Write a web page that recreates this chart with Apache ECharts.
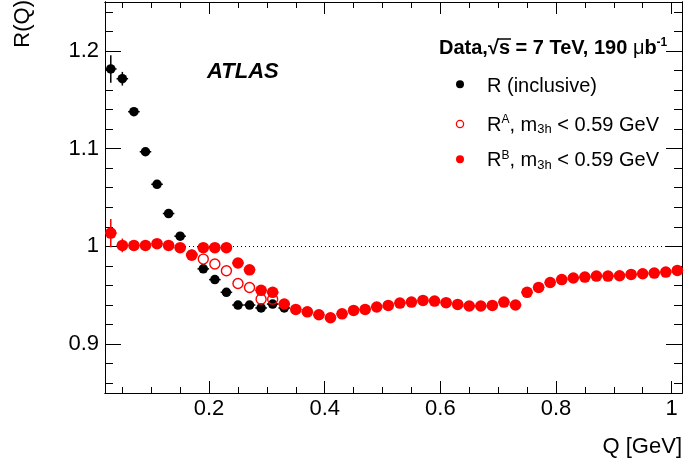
<!DOCTYPE html>
<html><head><meta charset="utf-8">
<script src="https://cdn.jsdelivr.net/npm/echarts@6/dist/echarts.min.js"></script>
<style>html,body{margin:0;padding:0;background:#fff}#c{width:685px;height:465px}</style>
</head><body><div id="c"></div>
<script>
// ---- data ----
const qIncl = [0.03,0.05,0.07,0.09,0.11,0.13,0.15,0.17,0.19,0.21,0.23,0.25,0.27,0.29,0.31,0.33];
const rIncl = [1.1815,1.1715,1.1378,1.0968,1.0635,1.0336,1.0104,0.992,0.977,0.966,0.953,0.940,0.940,0.937,0.941,0.937];
const errIncl = [0.014,0.007,0.003,0.003,0.003,0.002,0.002,0.002,0.002,0.002,0.002,0.002,0.002,0.002,0.002,0.002];

const qA = [0.19,0.21,0.23,0.25,0.27,0.29,0.31];
const rA = [0.987,0.982,0.975,0.962,0.958,0.946,0.946];

const qB = [0.03,0.05,0.07,0.09,0.11,0.13,0.15,0.17,0.19,0.21,0.23,0.25,0.27,0.29,0.31,0.33,0.35,0.37,0.39,0.41,
            0.43,0.45,0.47,0.49,0.51,0.53,0.55,0.57,0.59,0.61,0.63,0.65,0.67,0.69,0.71,0.73,0.75,0.77,0.79,0.81,
            0.83,0.85,0.87,0.89,0.91,0.93,0.95,0.97,0.99,1.01];
const rB = [1.0136,1.001,1.001,1.001,1.0028,1.001,0.9987,0.991,0.9987,0.9987,0.9987,0.983,0.976,0.955,0.953,0.941,0.9355,0.933,0.930,0.927,
            0.931,0.9345,0.9355,0.938,0.9396,0.942,0.943,0.9447,0.944,0.9424,0.9406,0.939,0.939,0.9396,0.943,0.940,0.953,0.958,0.963,0.966,
            0.9676,0.9686,0.9696,0.9696,0.970,0.9713,0.972,0.9727,0.9737,0.9754];
const errB = [0.0145,0.007,0.002,0.002,0.002,0.002,0.002,0.002,0.002,0.002,0.002,0.002,0.002,0.002,0.002,0.002,0.002,0.002,0.002,0.002,
              0.002,0.002,0.002,0.002,0.002,0.002,0.002,0.002,0.002,0.002,0.002,0.002,0.002,0.002,0.002,0.002,0.002,0.002,0.002,0.002,
              0.002,0.002,0.002,0.002,0.002,0.002,0.002,0.002,0.002,0.002];

const xMajorTicks = [0.2,0.4,0.6,0.8,1.0];
const xTickLabels = ['0.2','0.4','0.6','0.8','1'];
const xMinorTicks = [0.05,0.1,0.15,0.25,0.3,0.35,0.45,0.5,0.55,0.65,0.7,0.75,0.85,0.9,0.95];
const yMajorTicks = [0.9,1.0,1.1,1.2];
const yTickLabels = ['0.9','1','1.1','1.2'];
const yMinorTicks = [0.86,0.88,0.92,0.94,0.96,0.98,1.02,1.04,1.06,1.08,1.12,1.14,1.16,1.18,1.22,1.24];

const X_MIN = 0.02, X_MAX = 1.018, Y_MIN = 0.85, Y_MAX = 1.25;
const BIN_HALF = 0.01;
const FONT = "'Liberation Sans', Arial, Helvetica, sans-serif";
const RED = '#ff0000';

// ---- build ----
function tri(q, r, e) { return q.map((x, i) => [x, r[i], e ? e[i] : 0]); }
function pair(q, r) { return q.map((x, i) => [x, r[i]]); }

function xAx(pos, ticks, len, labels) {
  return {
    type: 'value', position: pos, min: X_MIN, max: X_MAX,
    axisLine: { show: true, onZero: false, lineStyle: { color: '#000', width: 1 } },
    axisTick: { show: true, inside: true, length: len, customValues: ticks, lineStyle: { color: '#000', width: 1 } },
    axisLabel: labels ? {
      show: true, customValues: ticks, margin: 5, color: '#000', fontSize: 22, fontFamily: FONT,
      formatter: v => { const i = xMajorTicks.findIndex(t => Math.abs(t - v) < 1e-6); return i >= 0 ? xTickLabels[i] : ''; }
    } : { show: false },
    splitLine: { show: false }
  };
}
function yAx(pos, ticks, len, labels) {
  return {
    type: 'value', position: pos, min: Y_MIN, max: Y_MAX,
    axisLine: { show: true, onZero: false, lineStyle: { color: '#000', width: 1 } },
    axisTick: { show: true, inside: true, length: len, customValues: ticks, lineStyle: { color: '#000', width: 1 } },
    axisLabel: labels ? {
      show: true, customValues: ticks, margin: 6, color: '#000', fontSize: 22, fontFamily: FONT,
      formatter: v => { const i = yMajorTicks.findIndex(t => Math.abs(t - v) < 1e-6); return i >= 0 ? yTickLabels[i] : ''; }
    } : { show: false },
    splitLine: { show: false }
  };
}

function errRender(color) {
  return function (params, api) {
    const x = api.value(0), y = api.value(1), e = api.value(2);
    const l = api.coord([x - BIN_HALF, y]), r = api.coord([x + BIN_HALF, y]);
    const t = api.coord([x, y + e]), b = api.coord([x, y - e]);
    return { type: 'group', children: [
      { type: 'line', shape: { x1: l[0], y1: l[1], x2: r[0], y2: r[1] }, style: { stroke: color, lineWidth: 1.5 } },
      { type: 'line', shape: { x1: t[0], y1: t[1], x2: b[0], y2: b[1] }, style: { stroke: color, lineWidth: 1.5 } }
    ] };
  };
}

const chart = echarts.init(document.getElementById('c'), null, { renderer: 'canvas' });

// measure for sqrt overline
const cv = document.createElement('canvas').getContext('2d');
cv.font = "bold 20px " + FONT;
const HX = 439;
const wPre = cv.measureText('Data,√').width;
const wS = cv.measureText('s').width;

chart.setOption({
  animation: false,
  backgroundColor: '#fff',
  grid: { left: 105, right: 3, top: 2, bottom: 72, containLabel: false },
  xAxis: [
    xAx('bottom', xMajorTicks, 12, true),
    xAx('bottom', xMinorTicks, 6, false),
    xAx('top', xMajorTicks, 12, false),
    xAx('top', xMinorTicks, 6, false)
  ],
  yAxis: [
    yAx('left', yMajorTicks, 16, true),
    yAx('left', yMinorTicks, 8, false),
    yAx('right', yMajorTicks, 16, false),
    yAx('right', yMinorTicks, 8, false)
  ],
  series: [
    { type: 'custom', name: 'errIncl', renderItem: errRender('#000'), data: tri(qIncl, rIncl, errIncl), z: 2, silent: true },
    { type: 'scatter', name: 'R (inclusive)', data: pair(qIncl, rIncl), symbol: 'circle', symbolSize: 9.5,
      itemStyle: { color: '#000', opacity: 1 }, z: 3,
      markLine: { silent: true, symbol: 'none', label: { show: false },
        lineStyle: { color: '#000', width: 1, type: [1, 3] }, data: [{ yAxis: 1.0 }] } },
    { type: 'scatter', name: 'RA', data: pair(qA, rA), symbol: 'circle', symbolSize: 10,
      itemStyle: { color: 'rgba(255,255,255,0)', borderColor: RED, borderWidth: 1.4, opacity: 1 }, z: 4 },
    { type: 'custom', name: 'errB', renderItem: errRender(RED), data: tri(qB, rB, errB), z: 5, silent: true },
    { type: 'scatter', name: 'RB', data: pair(qB, rB), symbol: 'circle', symbolSize: 11.5,
      itemStyle: { color: RED, opacity: 1 }, z: 6 }
  ],
  graphic: [
    { type: 'text', x: 23, y: 0, rotation: Math.PI / 2,
      style: { text: 'R(Q)', font: '22px ' + FONT, fill: '#000', textAlign: 'right', align: 'right', textVerticalAlign: 'middle', verticalAlign: 'middle' } },
    { type: 'text', x: 682, y: 447,
      style: { text: 'Q [GeV]', font: '22px ' + FONT, fill: '#000', textAlign: 'right', align: 'right', textVerticalAlign: 'middle', verticalAlign: 'middle' } },
    { type: 'text', x: 207, y: 72,
      style: { text: 'ATLAS', font: 'italic bold 22px ' + FONT, fill: '#000', textAlign: 'left', align: 'left', textVerticalAlign: 'middle', verticalAlign: 'middle' } },
    { type: 'text', x: HX, y: 48,
      style: { text: '{b|Data,√s = 7 TeV, 190 }{m|μ}{b|b}{sup|-1}', fill: '#000', textAlign: 'left', align: 'left', textVerticalAlign: 'middle', verticalAlign: 'middle',
        rich: {
          b: { fontWeight: 'bold', fontSize: 20, fontFamily: FONT, lineHeight: 22, fill: '#000' },
          m: { fontSize: 20, fontFamily: FONT, lineHeight: 22, fill: '#000' },
          sup: { fontWeight: 'bold', fontSize: 12, fontFamily: FONT, verticalAlign: 'top', lineHeight: 12, fill: '#000' }
        } } },
    { type: 'line', shape: { x1: HX + wPre - 1, y1: 39, x2: HX + wPre + wS + 1, y2: 39 }, style: { stroke: '#000', lineWidth: 1.5 } },
    // legend
    { type: 'circle', shape: { cx: 460, cy: 84.3, r: 4 }, style: { fill: '#000' } },
    { type: 'text', x: 487, y: 86,
      style: { text: 'R (inclusive)', font: '20px ' + FONT, fill: '#000', textAlign: 'left', align: 'left', textVerticalAlign: 'middle', verticalAlign: 'middle' } },
    { type: 'circle', shape: { cx: 460, cy: 124, r: 3.6 }, style: { fill: '#fff', stroke: RED, lineWidth: 1.3 } },
    { type: 'text', x: 487, y: 125,
      style: { text: '{n|R}{sup|A}{n|, m}{sub|3h}{n| < 0.59 GeV}', fill: '#000', textAlign: 'left', align: 'left', textVerticalAlign: 'middle', verticalAlign: 'middle',
        rich: {
          n: { fontSize: 20, fontFamily: FONT, lineHeight: 22, fill: '#000' },
          sup: { fontSize: 12, fontFamily: FONT, verticalAlign: 'top', lineHeight: 12, fill: '#000' },
          sub: { fontSize: 13, fontFamily: FONT, verticalAlign: 'bottom', lineHeight: 13, fill: '#000' }
        } } },
    { type: 'circle', shape: { cx: 460, cy: 159.3, r: 4 }, style: { fill: RED } },
    { type: 'text', x: 487, y: 160.5,
      style: { text: '{n|R}{sup|B}{n|, m}{sub|3h}{n| < 0.59 GeV}', fill: '#000', textAlign: 'left', align: 'left', textVerticalAlign: 'middle', verticalAlign: 'middle',
        rich: {
          n: { fontSize: 20, fontFamily: FONT, lineHeight: 22, fill: '#000' },
          sup: { fontSize: 12, fontFamily: FONT, verticalAlign: 'top', lineHeight: 12, fill: '#000' },
          sub: { fontSize: 13, fontFamily: FONT, verticalAlign: 'bottom', lineHeight: 13, fill: '#000' }
        } } }
  ]
});
</script>
</body></html>
